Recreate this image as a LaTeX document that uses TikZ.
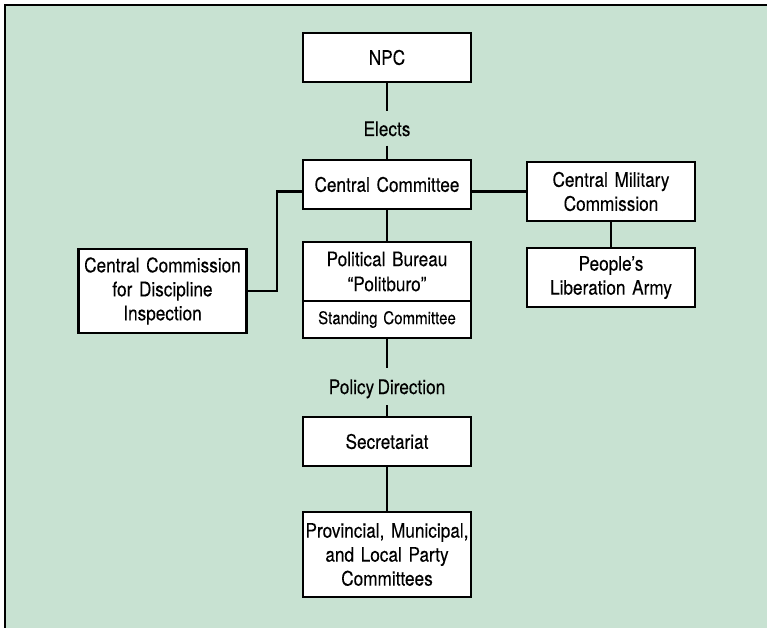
\documentclass[tikz,border=0pt]{standalone}
\usepackage{fontspec}
\setmainfont{TeX Gyre Heros}[FakeStretch=0.86, WordSpace=0.7, FakeBold=0.15]
\definecolor{panelgreen}{RGB}{200,226,210}

\begin{document}
\begin{tikzpicture}[x=1pt, y=-1pt,
    box/.style={draw, line width=2.6pt, fill=white, inner sep=0pt,
        minimum width=168pt, text width=166pt, align=center,
        font=\fontsize{20}{24}\selectfont},
    lbl/.style={inner sep=0pt, text height=15pt, text depth=0pt,
        font=\fontsize{20}{24}\selectfont},
    link/.style={line width=2.4pt}]
    \useasboundingbox (0,0) rectangle (767,628);

    % Panel with rule on top and left
    \fill[panelgreen] (5,5) rectangle (767,628);
    \draw[line width=1.8pt] (5,628) -- (5,5) -- (767,5);

    % Party organs
    \node[box, minimum height=49pt] (npc) at (387,57.5) {NPC};
    \node[box, minimum height=49pt] (cc) at (387,184.5) {Central Committee};
    \node[box, minimum height=59pt] (cmc) at (611,191.5) {Central Military\\Commission};
    \node[box, minimum height=59pt] (pla) at (611,277.5) {People’s\\Liberation Army};
    \node[box, minimum height=84pt] (ccdi) at (162.5,291) {Central Commission\\for Discipline\\Inspection};
    \node[box, minimum height=59pt, font=\fontsize{20}{25}\selectfont] (pb) at (387,271.5)
        {Political Bureau\\“Politburo”};
    \node[box, minimum height=37pt, font=\fontsize{17.5}{20}\selectfont] (psc) at (387,319.5)
        {Standing Committee};
    \node[box, minimum height=49pt] (sec) at (387,441.5) {Secretariat};
    \node[box, minimum height=85pt] (prov) at (387,554.5)
        {Provincial, Municipal,\\and Local Party\\Committees};

    % Link labels
    \node[lbl, minimum height=34pt] (elects) at (387,128.5) {Elects};
    \node[lbl, minimum height=37pt] (policy) at (387,386.5) {Policy Direction};

    % Connectors
    \draw[link] (npc.south) -- (elects.north);
    \draw[link] (elects.south) -- (cc.north);
    \draw[link] (cc.south) -- (pb.north);
    \draw[link] (cmc.west) -- (cmc.west -| cc.east);
    \draw[link] (ccdi.east) -- ++(29,0) |- (cc.west |- cmc.west);
    \draw[link] (cmc.south) -- (pla.north);
    \draw[link] (psc.south) -- (policy.north);
    \draw[link] (policy.south) -- (sec.north);
    \draw[link] (sec.south) -- (prov.north);
\end{tikzpicture}
\end{document}
